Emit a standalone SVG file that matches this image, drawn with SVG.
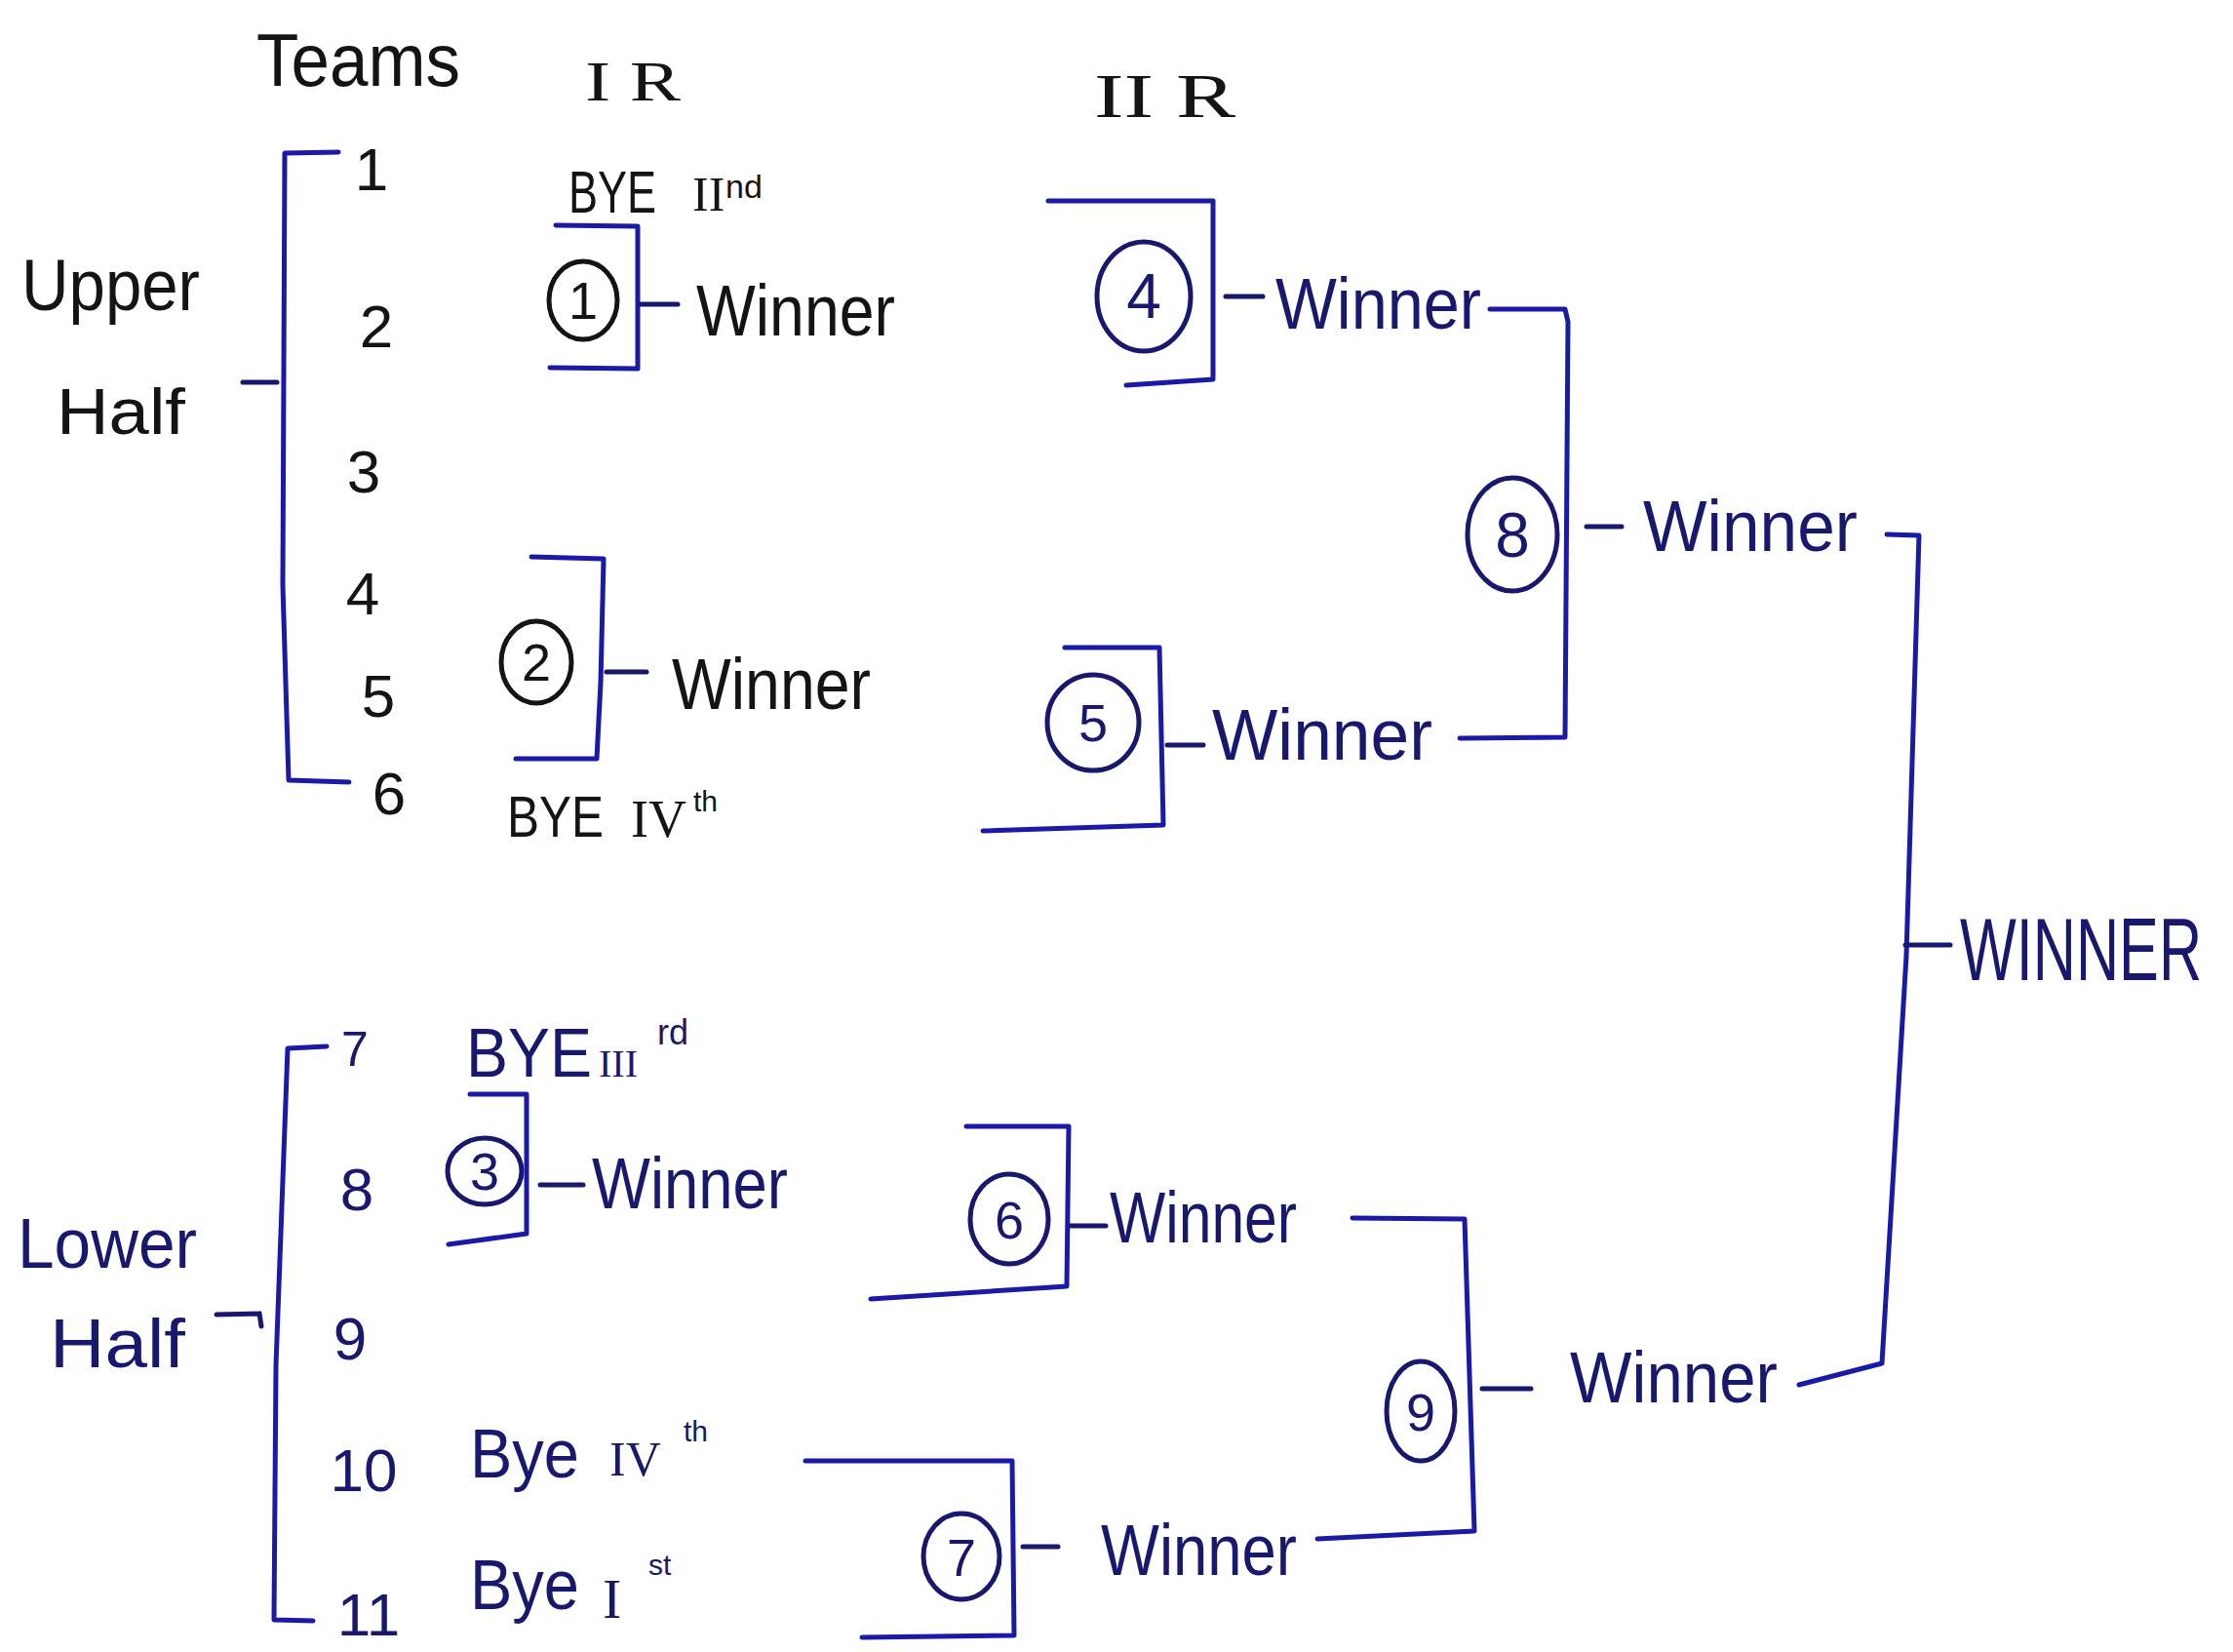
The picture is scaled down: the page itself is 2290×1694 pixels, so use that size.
<svg xmlns="http://www.w3.org/2000/svg" width="2290" height="1694" viewBox="0 0 2290 1694">
  <defs>
    <style>
      .ink { fill: #141414; font-family: "Liberation Sans", "DejaVu Sans", sans-serif; }
      .navy { fill: #18186e; font-family: "Liberation Sans", "DejaVu Sans", sans-serif; }
      .rom { font-family: "Liberation Serif", "DejaVu Serif", serif; }
      .num { font-size: 62px; text-anchor: middle; }
      .win { font-size: 74px; }
      .cnum { font-size: 54px; text-anchor: middle; }
      .ring { fill: none; stroke-width: 5; }
      .ring.k { stroke: #141414; }
      .ring.n { stroke: #18186e; }
      .br { fill: none; stroke: #1a1aa6; stroke-width: 5; stroke-linecap: round; stroke-linejoin: round; }
      .tick { fill: none; stroke: #18186e; stroke-width: 5; stroke-linecap: round; }
    </style>
  </defs>
  <rect width="2290" height="1694" fill="#ffffff"/>

  <!-- column headings -->
  <g id="heading-teams"><text class="ink" x="263" y="88" font-size="76" textLength="209" lengthAdjust="spacingAndGlyphs">Teams</text></g>
  <g id="heading-round-1"><text class="ink rom" x="600" y="103" font-size="58" textLength="98" lengthAdjust="spacingAndGlyphs">I R</text></g>
  <g id="heading-round-2"><text class="ink rom" x="1122" y="120" font-size="64" textLength="145" lengthAdjust="spacingAndGlyphs">II R</text></g>

  <!-- half labels -->
  <g id="label-upper-half">
    <text class="ink" x="22" y="318" font-size="74" textLength="183" lengthAdjust="spacingAndGlyphs">Upper</text>
    <text class="ink" x="58" y="445" font-size="66" textLength="132" lengthAdjust="spacingAndGlyphs">Half</text>
  </g>
  <g id="label-lower-half">
    <text class="navy" x="18" y="1300" font-size="72" textLength="184" lengthAdjust="spacingAndGlyphs">Lower</text>
    <text class="navy" x="51" y="1402" font-size="70" textLength="139" lengthAdjust="spacingAndGlyphs">Half</text>
  </g>

  <!-- teams -->
  <g id="team-1"><text class="ink num" x="381" y="195" font-size="56">1</text></g>
  <g id="team-2"><text class="ink num" x="386" y="356">2</text></g>
  <g id="team-3"><text class="ink num" x="373" y="505">3</text></g>
  <g id="team-4"><text class="ink num" x="372" y="630">4</text></g>
  <g id="team-5"><text class="ink num" x="388" y="735">5</text></g>
  <g id="team-6"><text class="ink num" x="399" y="835">6</text></g>
  <g id="team-7"><text class="navy num" x="364" y="1093" style="font-size:50px">7</text></g>
  <g id="team-8"><text class="navy num" x="366" y="1241">8</text></g>
  <g id="team-9"><text class="navy num" x="359" y="1394">9</text></g>
  <g id="team-10"><text class="navy num" x="373" y="1529">10</text></g>
  <g id="team-11"><text class="navy num" x="378" y="1677">11</text></g>

  <!-- byes: word, roman numeral, raised ordinal suffix -->
  <g id="bye-2nd">
    <text class="ink" font-size="62"><tspan x="583" y="218" textLength="90" lengthAdjust="spacingAndGlyphs">BYE</tspan><tspan class="rom" x="710" y="216" font-size="50">II</tspan><tspan x="744" y="203" font-size="34">nd</tspan></text>
  </g>
  <g id="bye-4th-upper">
    <text class="ink" font-size="60"><tspan x="520" y="858" textLength="99" lengthAdjust="spacingAndGlyphs">BYE</tspan><tspan class="rom" x="647" y="858" font-size="54">IV</tspan><tspan x="711" y="832" font-size="30">th</tspan></text>
  </g>
  <g id="bye-3rd">
    <text class="navy" font-size="70"><tspan x="478" y="1104" textLength="129" lengthAdjust="spacingAndGlyphs">BYE</tspan><tspan class="rom" x="614" y="1104" font-size="40">III</tspan><tspan x="674" y="1071" font-size="36">rd</tspan></text>
  </g>
  <g id="bye-4th-lower">
    <text class="navy" font-size="70"><tspan x="482" y="1515" textLength="112" lengthAdjust="spacingAndGlyphs">Bye</tspan><tspan class="rom" x="625" y="1513" font-size="50">IV</tspan><tspan x="701" y="1478" font-size="30">th</tspan></text>
  </g>
  <g id="bye-1st">
    <text class="navy" font-size="72"><tspan x="482" y="1650" textLength="112" lengthAdjust="spacingAndGlyphs">Bye</tspan><tspan class="rom" x="618" y="1659" font-size="58">I</tspan><tspan x="665" y="1615" font-size="30">st</tspan></text>
  </g>

  <!-- matches: numbered ring + winner label -->
  <g id="match-1">
    <ellipse class="ring k" cx="598" cy="308" rx="35" ry="40"/>
    <text class="ink cnum" x="598" y="327">1</text>
    <text class="ink win" x="714" y="344" textLength="204" lengthAdjust="spacingAndGlyphs">Winner</text>
  </g>
  <g id="match-2">
    <ellipse class="ring k" cx="550" cy="679" rx="36" ry="42"/>
    <text class="ink cnum" x="550" y="698">2</text>
    <text class="ink win" x="689" y="727" textLength="204" lengthAdjust="spacingAndGlyphs">Winner</text>
  </g>
  <g id="match-3">
    <ellipse class="ring n" cx="497" cy="1201" rx="38" ry="34"/>
    <text class="navy cnum" x="497" y="1220">3</text>
    <text class="navy win" x="607" y="1239" textLength="201" lengthAdjust="spacingAndGlyphs">Winner</text>
  </g>
  <g id="match-4">
    <ellipse class="ring n" cx="1173" cy="304" rx="48" ry="56"/>
    <text class="navy cnum" x="1173" y="326" style="font-size:64px">4</text>
    <text class="navy win" x="1308" y="337" textLength="211" lengthAdjust="spacingAndGlyphs">Winner</text>
  </g>
  <g id="match-5">
    <ellipse class="ring n" cx="1121" cy="741" rx="47" ry="49"/>
    <text class="navy cnum" x="1121" y="760">5</text>
    <text class="navy win" x="1243" y="779" textLength="226" lengthAdjust="spacingAndGlyphs">Winner</text>
  </g>
  <g id="match-6">
    <ellipse class="ring n" cx="1035" cy="1250" rx="40" ry="46"/>
    <text class="navy cnum" x="1035" y="1270">6</text>
    <text class="navy win" x="1138" y="1274" textLength="192" lengthAdjust="spacingAndGlyphs">Winner</text>
  </g>
  <g id="match-7">
    <ellipse class="ring n" cx="986" cy="1596" rx="39" ry="44"/>
    <text class="navy cnum" x="986" y="1616">7</text>
    <text class="navy win" x="1129" y="1615" textLength="201" lengthAdjust="spacingAndGlyphs">Winner</text>
  </g>
  <g id="match-8">
    <ellipse class="ring n" cx="1551" cy="548" rx="46" ry="58"/>
    <text class="navy cnum" x="1551" y="571" style="font-size:64px">8</text>
    <text class="navy win" x="1685" y="565" textLength="220" lengthAdjust="spacingAndGlyphs">Winner</text>
  </g>
  <g id="match-9">
    <ellipse class="ring n" cx="1457" cy="1447" rx="35" ry="51"/>
    <text class="navy cnum" x="1457" y="1467">9</text>
    <text class="navy win" x="1610" y="1438" textLength="213" lengthAdjust="spacingAndGlyphs">Winner</text>
  </g>

  <!-- overall winner, narrowed horizontally to fit the right margin -->
  <g id="champion">
    <text class="navy" x="0" y="0" font-size="90" transform="translate(2010 1005) scale(0.68 1)">WINNER</text>
  </g>

  <!-- bracket lines and short dashes joining the rounds -->
  <g id="connectors">
    <path class="br" d="M347,156 L292,157 L290,600 L296,800 L358,802"/>
    <path class="tick" d="M249,392 L284,392"/>
    <path class="br" d="M335,1073 L295,1075 L283,1400 L281,1661 L321,1662"/>
    <path class="tick" d="M222,1348 L266,1347 L268,1360"/>

    <path class="br" d="M570,231 L654,232 L654,378 L564,377"/>
    <path class="tick" d="M657,312 L695,312"/>
    <path class="br" d="M545,571 L619,573 L616,700 L612,778 L529,778"/>
    <path class="tick" d="M622,689 L663,689"/>
    <path class="br" d="M482,1122 L540,1122 L540,1265 L460,1276"/>
    <path class="tick" d="M554,1215 L598,1215"/>

    <path class="br" d="M1075,206 L1244,206 L1244,389 L1155,395"/>
    <path class="tick" d="M1257,304 L1295,304"/>
    <path class="br" d="M1092,664 L1189,664 L1193,846 L1008,852"/>
    <path class="tick" d="M1197,764 L1234,764"/>
    <path class="br" d="M991,1155 L1096,1155 L1094,1319 L893,1332"/>
    <path class="tick" d="M1098,1257 L1134,1257"/>
    <path class="br" d="M826,1498 L1038,1498 L1040,1677 L884,1679"/>
    <path class="tick" d="M1049,1586 L1085,1586"/>

    <path class="br" d="M1528,317 L1605,317 L1608,330 L1605,756 L1497,757"/>
    <path class="tick" d="M1627,540 L1663,540"/>
    <path class="br" d="M1387,1249 L1502,1250 L1512,1570 L1351,1578"/>
    <path class="tick" d="M1520,1424 L1570,1424"/>

    <path class="br" d="M1935,548 L1968,549 L1955,980 L1930,1398 L1845,1420"/>
    <path class="tick" d="M1954,969 L2000,969"/>
  </g>
</svg>
